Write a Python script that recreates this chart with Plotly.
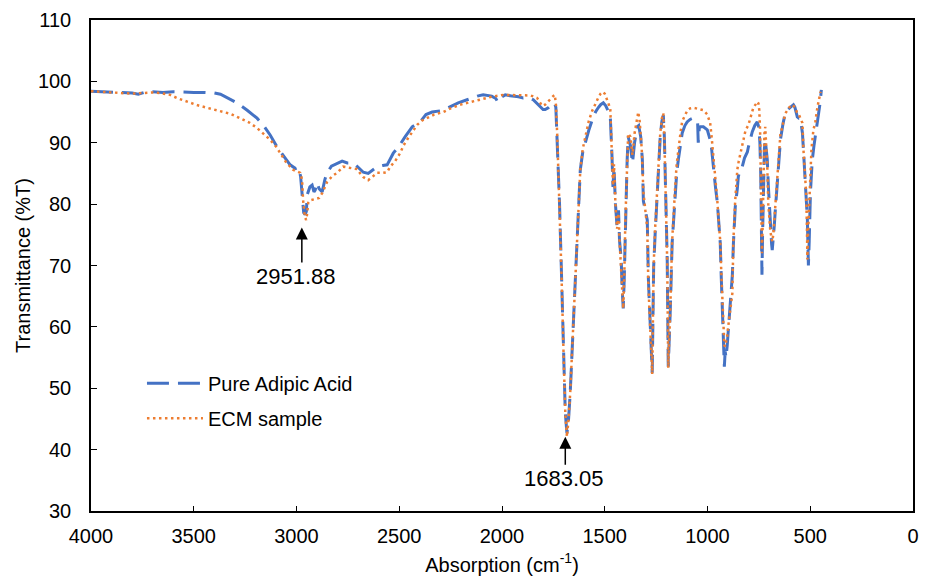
import plotly.graph_objects as go

# ---------------- data ----------------
pure_x = [4000, 3950, 3900, 3850, 3800, 3770, 3740, 3700, 3650, 3600, 3550, 3500, 3450, 3400, 3370, 3338,
          3290, 3240, 3192, 3160, 3129, 3094, 3060, 3031, 3005, 2990, 2980, 2972, 2965, 2958, 2952, 2948,
          2935, 2924, 2915, 2909, 2900, 2890, 2875, 2862, 2851, 2830, 2802, 2778, 2753, 2724, 2700, 2675,
          2651, 2630, 2607, 2580, 2559, 2529, 2500, 2471, 2437, 2398, 2370, 2340, 2300, 2262, 2213, 2170,
          2120, 2092, 2050, 2030, 2020, 2005, 1984, 1950, 1920, 1897, 1870, 1848, 1820, 1800, 1790, 1775,
          1760, 1745, 1738, 1731, 1720, 1710, 1700, 1692, 1684, 1676, 1668, 1660, 1653, 1645, 1634, 1625,
          1619, 1607, 1595, 1578, 1561, 1545, 1532, 1520, 1507, 1495, 1485, 1473, 1465, 1460, 1455, 1448,
          1440, 1433, 1428, 1420, 1415, 1410, 1405, 1400, 1395, 1391, 1386, 1375, 1365, 1355, 1342, 1335,
          1325, 1317, 1312, 1300, 1293, 1288, 1278, 1272, 1269, 1266, 1262, 1255, 1245, 1238, 1230, 1222,
          1215, 1210, 1205, 1200, 1196, 1191, 1186, 1181, 1172, 1165, 1157, 1150, 1142, 1130, 1123, 1110,
          1099, 1085, 1070, 1055, 1048, 1045, 1040, 1035, 1020, 1001, 995, 987, 980, 972, 962, 952,
          945, 938, 933, 928, 923, 918, 914, 910, 904, 897, 889, 879, 874, 865, 855, 850,
          840, 831, 820, 806, 801, 782, 770, 758, 750, 745, 741, 738, 735, 732, 728, 723,
          719, 714, 709, 704, 698, 694, 688, 685, 680, 675, 670, 662, 655, 645, 632, 621,
          610, 597, 590, 582, 575, 568, 563, 555, 548, 542, 538, 530, 524, 518, 514, 511,
          509, 505, 502, 499, 494, 490, 482, 475, 468, 460, 452, 446]
pure_y = [98.4, 98.3, 98.3, 98.2, 98.1, 97.9, 98.2, 98.3, 98.2, 98.3, 98.2, 98.2, 98.2, 98.1, 97.9, 97.3,
          96.5, 95.3, 94.0, 92.8, 91.3, 89.3, 87.8, 86.4, 85.8, 86.0, 84.5, 81.0, 78.6, 78.3, 78.8, 81.5,
          82.8, 83.1, 82.0, 82.3, 83.5, 82.5, 82.0, 84.0, 85.1, 86.2, 86.7, 87.0, 86.7, 86.7, 86.0, 85.2,
          85.0, 85.5, 86.1, 86.3, 86.4, 88.3, 89.5, 91.0, 92.6, 93.4, 94.6, 95.0, 95.2, 95.7, 96.5, 97.0,
          97.6, 97.8, 97.6, 97.2, 96.6, 97.4, 97.8, 97.6, 97.5, 97.3, 97.4, 97.0, 96.0, 95.4, 95.4, 95.7,
          96.2, 96.5, 95.8, 90.0, 80.0, 68.0, 55.0, 46.0, 42.7, 45.0, 49.3, 55.0, 60.0, 66.0, 73.7, 81.0,
          85.6, 88.5, 90.0, 92.0, 93.7, 95.0, 95.7, 96.2, 96.5, 96.0, 95.3, 94.2, 88.0, 82.8, 86.0, 80.0,
          76.3, 79.0, 74.0, 71.0, 66.0, 63.0, 68.0, 77.0, 84.0, 87.2, 91.0, 89.5, 86.7, 90.0, 92.6, 92.8,
          91.0, 87.2, 80.5, 78.5, 77.4, 68.1, 58.4, 54.0, 52.5, 60.0, 69.8, 75.0, 81.8, 87.0, 91.0, 93.5,
          94.5, 91.0, 84.5, 76.0, 70.9, 53.5, 57.0, 62.8, 73.7, 78.0, 81.8, 85.0, 87.2, 90.0, 91.6, 92.8,
          93.4, 93.8, 94.0, 93.8, 93.2, 90.0, 92.4, 92.6, 92.6, 92.1, 91.5, 90.5, 89.0, 86.1, 83.0, 80.2,
          76.0, 73.7, 68.0, 62.8, 57.4, 53.5, 56.0, 55.0, 57.0, 60.0, 63.3, 68.5, 73.5, 79.5, 82.5, 84.5,
          85.8, 86.1, 87.5, 88.5, 89.3, 91.8, 92.8, 93.4, 92.5, 90.0, 85.0, 78.0, 68.5, 75.0, 84.0, 89.0,
          90.5, 88.5, 87.2, 83.0, 78.5, 76.0, 73.5, 72.5, 74.0, 76.5, 79.0, 82.5, 85.6, 90.5, 93.2, 94.9,
          95.4, 95.8, 96.0, 96.2, 95.8, 94.8, 94.2, 94.0, 94.0, 92.5, 91.6, 87.0, 83.5, 80.0, 77.5, 73.0,
          70.0, 74.0, 79.0, 82.0, 85.0, 87.2, 89.5, 91.0, 92.5, 94.2, 96.5, 98.6]

ecm_x = [4000, 3950, 3900, 3850, 3800, 3750, 3700, 3660, 3615, 3575, 3533, 3480, 3435, 3400, 3357, 3320,
         3275, 3230, 3192, 3160, 3129, 3100, 3080, 3050, 3017, 2995, 2982, 2973, 2968, 2960, 2953, 2948,
         2943, 2935, 2919, 2905, 2890, 2875, 2862, 2851, 2825, 2802, 2773, 2750, 2729, 2705, 2690, 2675,
         2651, 2630, 2607, 2578, 2559, 2544, 2520, 2496, 2480, 2462, 2447, 2413, 2390, 2364, 2330, 2286,
         2250, 2204, 2150, 2106, 2050, 1994, 1950, 1897, 1860, 1829, 1815, 1805, 1790, 1775, 1760, 1751,
         1743, 1737, 1731, 1720, 1710, 1700, 1692, 1684, 1676, 1668, 1660, 1653, 1645, 1634, 1625, 1619,
         1607, 1595, 1578, 1561, 1545, 1532, 1520, 1510, 1500, 1490, 1480, 1473, 1465, 1460, 1455, 1448,
         1440, 1433, 1428, 1420, 1415, 1410, 1405, 1400, 1395, 1391, 1386, 1375, 1365, 1355, 1342, 1337,
         1330, 1320, 1312, 1300, 1293, 1288, 1278, 1272, 1269, 1266, 1262, 1255, 1245, 1238, 1230, 1222,
         1215, 1210, 1205, 1200, 1196, 1191, 1186, 1181, 1172, 1165, 1157, 1150, 1142, 1130, 1123, 1110,
         1099, 1085, 1070, 1055, 1045, 1035, 1020, 1001, 995, 987, 980, 972, 962, 952, 945, 938,
         933, 928, 923, 918, 914, 910, 904, 899, 889, 879, 874, 870, 865, 860, 855, 848,
         840, 826, 815, 801, 790, 777, 765, 758, 752, 748, 744, 740, 737, 735, 732, 728,
         723, 719, 714, 709, 704, 698, 694, 688, 685, 680, 675, 670, 662, 655, 645, 636,
         621, 611, 597, 587, 575, 565, 558, 548, 538, 533, 527, 520, 516, 514, 511, 507,
         502, 499, 494, 485, 475, 465, 458, 450]
ecm_y = [98.4, 98.3, 98.2, 98.1, 98.0, 98.1, 98.2, 98.1, 97.8, 97.2, 96.7, 96.1, 95.7, 95.4, 95.1, 94.7,
         94.0, 93.3, 92.4, 91.5, 90.5, 89.4, 88.3, 86.8, 85.6, 85.3, 85.1, 84.0, 80.7, 78.0, 77.4, 78.5,
         80.2, 80.6, 80.7, 80.8, 81.0, 81.8, 82.8, 83.6, 84.6, 85.1, 86.1, 86.0, 85.9, 85.7, 85.0, 84.4,
         83.9, 84.5, 85.1, 85.1, 85.2, 86.1, 87.0, 88.3, 89.5, 90.5, 91.2, 92.9, 93.6, 94.0, 94.6, 95.0,
         95.6, 96.2, 96.7, 97.0, 97.5, 97.8, 97.8, 97.8, 97.7, 97.3, 96.5, 96.0, 96.2, 96.8, 97.4, 97.6,
         97.8, 96.0, 91.0, 80.0, 68.0, 55.0, 46.0, 42.1, 45.0, 49.3, 55.0, 60.0, 66.0, 73.7, 81.0, 85.6,
         89.0, 91.0, 93.5, 95.2, 96.5, 97.3, 98.0, 98.3, 98.0, 97.2, 96.2, 95.5, 88.0, 83.0, 86.5, 80.0,
         76.0, 78.5, 74.0, 70.0, 66.0, 63.0, 68.0, 77.0, 84.0, 88.0, 91.5, 91.0, 88.0, 91.5, 94.5, 95.0,
         93.5, 89.0, 82.0, 78.0, 76.0, 67.0, 58.0, 54.0, 52.3, 60.0, 70.0, 76.0, 83.0, 88.0, 91.5, 94.0,
         94.8, 91.0, 84.5, 76.0, 70.5, 53.3, 57.0, 63.0, 74.0, 79.0, 83.0, 86.5, 89.0, 92.0, 93.5, 94.6,
         95.2, 95.6, 95.7, 95.6, 95.5, 95.4, 95.3, 94.6, 94.0, 93.2, 91.0, 88.3, 84.0, 80.5, 77.0, 74.0,
         69.0, 64.0, 58.4, 57.0, 56.8, 57.5, 58.5, 60.1, 63.0, 65.5, 74.0, 78.0, 80.7, 83.0, 85.6, 87.0,
         88.3, 90.8, 92.0, 92.9, 94.3, 95.7, 96.3, 96.7, 96.4, 95.3, 92.0, 85.0, 78.0, 72.0, 76.0, 86.0,
         91.5, 92.6, 90.0, 86.0, 80.0, 77.0, 75.5, 74.5, 73.9, 75.0, 77.5, 80.7, 84.0, 87.2, 91.5, 92.6,
         94.8, 95.3, 96.0, 96.2, 95.8, 95.0, 94.8, 94.0, 93.2, 88.8, 86.0, 81.8, 76.0, 71.0, 75.0, 79.0,
         83.0, 85.0, 89.0, 92.0, 93.5, 95.8, 97.0, 98.3]

series_names = ["Pure Adipic Acid", "ECM sample"]

peak_labels = ["2951.88", "1683.05"]
peak_x = [2974, 1692]
peak_y = [76.2, 42.1]

x_ticks = [4000, 3500, 3000, 2500, 2000, 1500, 1000, 500, 0]
y_ticks = [30, 40, 50, 60, 70, 80, 90, 100, 110]

# ---------------- style ----------------
FONT = "Arial, Liberation Sans, sans-serif"
BLUE = "#4472C4"
ORANGE = "#ED7D31"
label_offset = [49, 42]     # px from arrow tip down to label centre
label_boxw = [92, 83]       # box width: left-aligned text shifts label slightly left of arrow

fig = go.Figure()
fig.add_trace(go.Scatter(x=pure_x, y=pure_y, mode="lines", name=series_names[0],
                         legendgroup="a",
                         line=dict(color=BLUE, width=3, dash="22px,9px")))
fig.add_trace(go.Scatter(x=ecm_x, y=ecm_y, mode="lines", name=series_names[1],
                         legendgroup="b",
                         line=dict(color=ORANGE, width=2.5, dash="2.5px,3.5px")))

annotations = []
for lab, px, py, off, bw in zip(peak_labels, peak_x, peak_y, label_offset, label_boxw):
    annotations.append(dict(x=px, y=py, xref="x", yref="y", text=lab, showarrow=True,
                            ax=0, ay=off, axref="pixel", ayref="pixel",
                            width=bw, align="left",
                            arrowhead=2, arrowsize=1.6, arrowwidth=1.5, arrowcolor="black",
                            font=dict(family=FONT, size=22, color="black")))

fig.update_layout(
    width=931, height=578, autosize=False,
    margin=dict(l=91, r=18, t=20, b=67),
    paper_bgcolor="white", plot_bgcolor="white",
    font=dict(family=FONT, size=20, color="black"),
    showlegend=True,
    legend=dict(x=0.062, y=0.300, xanchor="left", yanchor="top",
                bgcolor="rgba(0,0,0,0)", itemwidth=56, tracegroupgap=6,
                font=dict(family=FONT, size=20, color="black")),
    annotations=annotations,
)
fig.update_xaxes(range=[4000, 0], tickvals=x_ticks, ticktext=[str(v) for v in x_ticks],
                 automargin=False,
                 showgrid=False, zeroline=False, showline=True, linecolor="black", linewidth=1.5,
                 mirror=True, ticks="inside", ticklen=5, tickcolor="black", tickwidth=1,
                 ticklabelstandoff=6,
                 title=dict(text="Absorption (cm<sup>-1</sup>)", font=dict(size=20), standoff=12))
fig.update_yaxes(range=[30, 110], tickvals=y_ticks, ticktext=[str(v) for v in y_ticks],
                 automargin=False,
                 showgrid=False, zeroline=False, showline=True, linecolor="black", linewidth=1.5,
                 mirror=True, ticks="inside", ticklen=6, tickcolor="black", tickwidth=1,
                 ticklabelstandoff=14,
                 title=dict(text="Transmittance (%T)", font=dict(size=20), standoff=2))

fig.write_html("out.html", config={"displayModeBar": False},
               post_script="document.body.style.margin='0px';")
